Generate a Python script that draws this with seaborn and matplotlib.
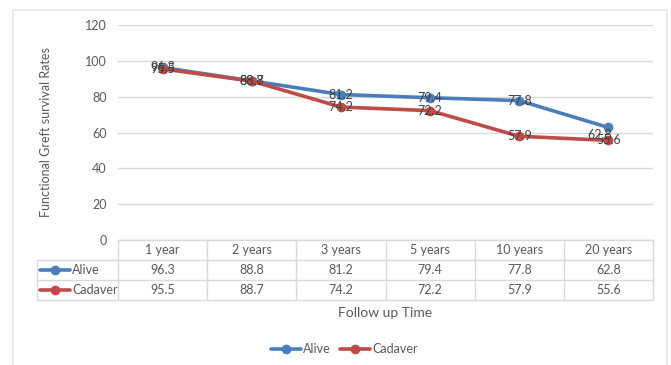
import matplotlib
matplotlib.use("Agg")
import matplotlib.pyplot as plt
from matplotlib.patches import Rectangle
import matplotlib.transforms as mtransforms
import seaborn as sns
import pandas as pd

periods = ["1 year", "2 years", "3 years", "5 years", "10 years", "20 years"]
alive = [96.3, 88.8, 81.2, 79.4, 77.8, 62.8]
cadaver = [95.5, 88.7, 74.2, 72.2, 57.9, 55.6]
series_names = ["Alive", "Cadaver"]
colors = {"Alive": "#4A7EBB", "Cadaver": "#BE4B48"}

df = pd.DataFrame({
    "period": periods * 2,
    "pos": list(range(len(periods))) * 2,
    "rate": alive + cadaver,
    "donor": ["Alive"] * len(alive) + ["Cadaver"] * len(cadaver),
})

sns.set_theme(style="white")
plt.rcParams["font.family"] = ["Lato", "DejaVu Sans"]
TXT = "#595959"
GRID = "#D9D9D9"

W, H = 671, 365
fig = plt.figure(figsize=(W / 100, H / 100), dpi=100)

# overlay in pixel coordinates for the frame, table and legend
ov = fig.add_axes([0, 0, 1, 1], zorder=0)
ov.set_xlim(0, W)
ov.set_ylim(H, 0)
ov.axis("off")

L, R, T, B = 118, 653, 25, 240
ax = fig.add_axes([L / W, 1 - B / H, (R - L) / W, (B - T) / H], zorder=2)
ax.patch.set_alpha(0)

sns.lineplot(data=df, x="pos", y="rate", hue="donor", palette=colors,
             marker="o", markersize=7, markeredgewidth=0, linewidth=2.6,
             legend=False, ax=ax)

ax.set_xlim(-0.5, len(periods) - 0.5)
ax.set_ylim(0, 120)
ax.set_yticks(range(0, 121, 20))
ax.set_xticks([])
ax.yaxis.grid(True, color=GRID, linewidth=1)
ax.set_axisbelow(True)
for s in ax.spines.values():
    s.set_visible(False)
ax.tick_params(axis="y", length=0, pad=8, labelsize=9, labelcolor=TXT)
ax.set_xlabel("")
ax.set_ylabel("Functional Greft survival Rates", fontsize=9, color=TXT, labelpad=24)

# data labels centred on the points
for name, vals in zip(series_names, [alive, cadaver]):
    for i, v in enumerate(vals):
        dx, dy = 0, 0
        if name == "Alive" and i == len(vals) - 1:
            dx, dy = -6.5, -5.5
        ax.annotate(f"{v:.1f}", (i, v), xytext=(dx, dy), textcoords="offset points",
                    ha="center", va="center", fontsize=9, color="#404040", zorder=5)

# outer frame
ov.add_patch(Rectangle((13, 10), 654, 400, fill=False, edgecolor="#E6E6E6", linewidth=1.2))

# data table under the plot
tr = mtransforms.blended_transform_factory(ax.transData, ov.transData)
rows_y = [240, 259.5, 279.5, 300]
left_x = 37
ncol = len(periods)
colw = (R - L) / ncol
lk = dict(color=GRID, linewidth=1, zorder=1)
ov.plot([L, R], [rows_y[0]] * 2, **lk)
for y in rows_y[1:]:
    ov.plot([left_x, R], [y, y], **lk)
ov.plot([left_x, left_x], [rows_y[1], rows_y[3]], **lk)
for k in range(ncol + 1):
    x = L + k * colw
    ov.plot([x, x], [rows_y[0], rows_y[3]], **lk)

for i, p in enumerate(periods):
    ov.text(i, (rows_y[0] + rows_y[1]) / 2, p, transform=tr, ha="center", va="center",
            fontsize=9, color=TXT)
for r, (name, vals) in enumerate(zip(series_names, [alive, cadaver])):
    yc = (rows_y[r + 1] + rows_y[r + 2]) / 2
    for i, v in enumerate(vals):
        ov.text(i, yc, f"{v:.1f}", transform=tr, ha="center", va="center",
                fontsize=9, color=TXT)
    ov.plot([40, 70], [yc, yc], color=colors[name], linewidth=2.6, zorder=3)
    ov.plot([55], [yc], marker="o", markersize=7, markeredgewidth=0,
            color=colors[name], zorder=3)
    ov.text(72, yc, name, ha="left", va="center", fontsize=9, color=TXT)

ov.text(385, 313, "Follow up Time", ha="center", va="center", fontsize=10, color=TXT)

# legend along the bottom
for x0, name in [(271, "Alive"), (340, "Cadaver")]:
    ov.plot([x0, x0 + 30], [349, 349], color=colors[name], linewidth=2.6)
    ov.plot([x0 + 15], [349], marker="o", markersize=7, markeredgewidth=0,
            color=colors[name])
    ov.text(x0 + 32, 349, name, ha="left", va="center", fontsize=9, color=TXT)

fig.savefig("out.png", dpi=100)
